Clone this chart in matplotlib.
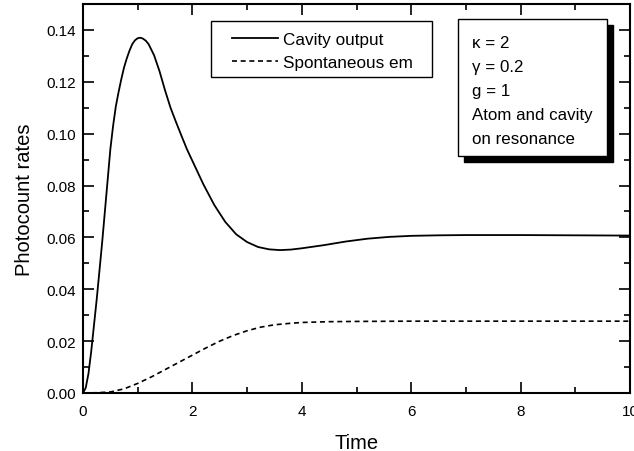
import numpy as np
import matplotlib
matplotlib.use('Agg')
import matplotlib.pyplot as plt
from matplotlib.patches import Rectangle
from matplotlib.ticker import MultipleLocator, FormatStrFormatter

plt.rcParams['font.family'] = ['Liberation Sans', 'DejaVu Sans']

# cavity output photocount rate
t_cav = [0, 0.05, 0.1, 0.15, 0.2, 0.25, 0.3, 0.35, 0.4, 0.45, 0.5, 0.55,
         0.6, 0.65, 0.7, 0.75, 0.8, 0.85, 0.9, 0.95, 1.0, 1.05, 1.1, 1.15,
         1.2, 1.3, 1.4, 1.5, 1.6, 1.7, 1.8, 1.9, 2.0, 2.2, 2.4, 2.6, 2.8,
         3.0, 3.2, 3.4, 3.6, 3.8, 4.0, 4.4, 4.8, 5.2, 5.6, 6.0, 6.5, 7, 8,
         9, 10]
cavity = [0.0, 0.002, 0.0075, 0.016, 0.026, 0.036, 0.047, 0.058, 0.070,
          0.082, 0.094, 0.103, 0.1105, 0.116, 0.121, 0.1255, 0.129, 0.132,
          0.1345, 0.136, 0.1368, 0.137, 0.1366, 0.1358, 0.1345, 0.1302,
          0.124, 0.1167, 0.110, 0.1045, 0.0992, 0.094, 0.0895, 0.0805,
          0.0725, 0.066, 0.0612, 0.0582, 0.0563, 0.0554, 0.0551, 0.0553,
          0.0558, 0.0570, 0.0584, 0.0595, 0.0602, 0.0606, 0.0608, 0.0609,
          0.0609, 0.0608, 0.0607]

# spontaneous emission rate
t_spon = [0, 0.25, 0.5, 0.75, 1.0, 1.25, 1.5, 1.75, 2.0, 2.25, 2.5, 2.75,
          3.0, 3.25, 3.5, 3.75, 4.0, 4.5, 5, 6, 7, 8, 9, 10]
spont = [0, 0.0001, 0.0004, 0.0016, 0.0037, 0.0062, 0.0090, 0.0118, 0.0146,
         0.0174, 0.0200, 0.0222, 0.0240, 0.0254, 0.0263, 0.0268, 0.0272,
         0.0275, 0.0276, 0.0277, 0.0277, 0.0277, 0.0277, 0.0277]

info = 'κ = 2\nγ = 0.2\ng = 1\nAtom and cavity\non resonance'

fig = plt.figure(figsize=(6.34, 4.52), dpi=100)
ax = fig.add_axes([83/634, 1-394/452, 547/634, 389/452])

ax.plot(t_cav, cavity, '-k', lw=1.3, label='Cavity output')
ax.plot(t_spon, spont, '--k', lw=1.2, dashes=(3, 2.2), label='Spontaneous em')

ax.set_xlim(0, 10)
ax.set_ylim(0, 0.15)
ax.xaxis.set_major_locator(MultipleLocator(2))
ax.xaxis.set_minor_locator(MultipleLocator(1))
ax.yaxis.set_major_locator(MultipleLocator(0.02))
ax.yaxis.set_minor_locator(MultipleLocator(0.01))
ax.yaxis.set_major_formatter(FormatStrFormatter('%.2f'))
ax.tick_params(which='both', direction='in', top=True, right=True,
               width=1.2, labelsize=11)
ax.tick_params(axis='x', pad=8)
ax.tick_params(axis='y', pad=5)
ax.tick_params(which='major', length=8)
ax.tick_params(which='minor', length=4.5)
for s in ax.spines.values():
    s.set_linewidth(1.5)

ax.set_xlabel('Time', fontsize=14.5, labelpad=11)
ax.set_ylabel('Photocount rates', fontsize=14.5, labelpad=9)

# legend with a hand-drawn frame (wider side padding than matplotlib's)
leg = ax.legend(loc='upper left', bbox_to_anchor=(0.2724, 0.929),
                borderaxespad=0, borderpad=0, frameon=False, fontsize=12.3,
                handlelength=2.7, handletextpad=0.3, labelspacing=0.5)
ax.add_patch(Rectangle((0.234, 0.812), 0.404, 0.144, transform=ax.transAxes,
                       facecolor='white', edgecolor='black', lw=1.0, zorder=4))
leg.set_zorder(6)

# info box with drop shadow
bx, by, bw, bh = 0.6856, 0.609, 0.2724, 0.352
ax.add_patch(Rectangle((bx + 0.011, by - 0.0155), bw, bh, transform=ax.transAxes,
                       facecolor='black', edgecolor='black', zorder=5))
ax.add_patch(Rectangle((bx, by), bw, bh, transform=ax.transAxes,
                       facecolor='white', edgecolor='black', lw=1.0, zorder=6))
ax.text(bx + 0.026, 0.921, info, transform=ax.transAxes,
        fontsize=12.2, va='top', ha='left', linespacing=1.75, zorder=7)

fig.savefig('out.png', dpi=100)
